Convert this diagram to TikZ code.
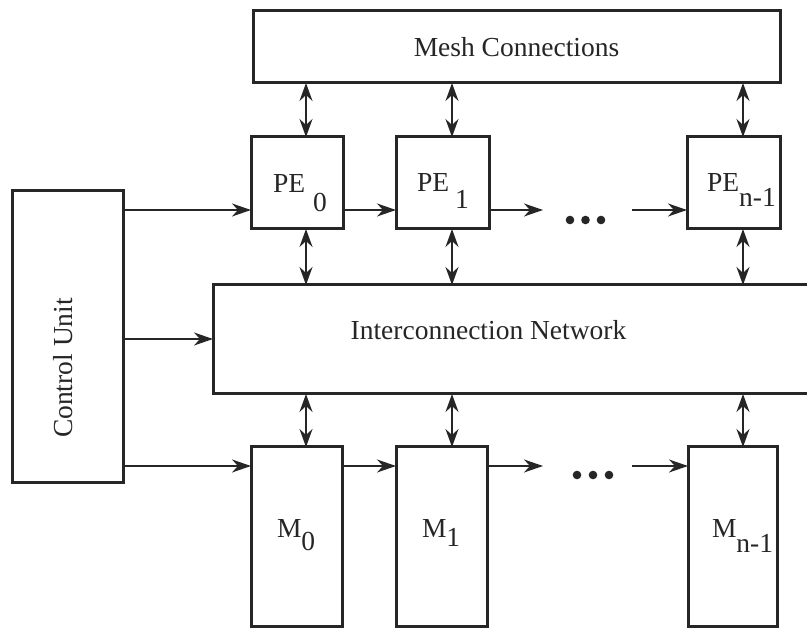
\documentclass[tikz,border=0pt]{standalone}
\usepackage{fontspec}
\setmainfont{Liberation Serif}
\usetikzlibrary{arrows.meta,calc}
\definecolor{ink}{RGB}{38,38,38}
\begin{document}
\begin{tikzpicture}[x=1pt,y=-1pt,
  box/.style={draw=ink,line width=3pt,rectangle,inner sep=0pt,outer sep=0pt,anchor=north west,text=ink,
    font=\fontsize{27.5pt}{33pt}\selectfont},
  lab/.style={inner sep=0pt,outer sep=0pt,text=ink,font=\fontsize{27.5pt}{33pt}\selectfont},
  sgl/.style={draw=ink,line width=1.6pt,-{Stealth[length=19pt,width=13pt,inset=6pt]}},
  dbl/.style={draw=ink,line width=2pt,{Stealth[length=18pt,width=13pt,inset=6pt]}-{Stealth[length=18pt,width=13pt,inset=6pt]}},
  dotm/.style={fill=ink}]
\useasboundingbox (0,0) rectangle (807,628);
\clip (0,0) rectangle (807,628);
\fill[white] (0,0) rectangle (807,628);

% boxes
\node[box,minimum width=527pt,minimum height=72pt] (mesh) at (253,11) {Mesh Connections\hspace{12pt}};
\node[box,minimum width=92pt,minimum height=92pt] (PE0) at (251,137) {};
\node[box,minimum width=93pt,minimum height=92pt] (PE1) at (396,137) {};
\node[box,minimum width=93pt,minimum height=92pt] (PEn) at (687,137) {};
\node[box,minimum width=111pt,minimum height=292pt] (CU) at (12,191) {};
\node[box,minimum width=620pt,minimum height=109pt] (IN) at (213,285) {};
\node[box,minimum width=91pt,minimum height=179pt] (M0) at (251,447) {};
\node[box,minimum width=91pt,minimum height=179pt] (M1) at (396,447) {};
\node[box,minimum width=89pt,minimum height=179pt] (Mn) at (688,447) {};

% labels
\node[lab,anchor=base,rotate=90] (CUt) at (72,368) {Control Unit};
\node[lab,anchor=base] (INt) at (488.5,340) {Interconnection Network};
\node[lab,anchor=base west] (PE0t) at (273,193) {PE\hspace{8pt}\raisebox{-19pt}{0}};
\node[lab,anchor=base west] (PE1t) at (417,192) {PE\hspace{6pt}\raisebox{-17pt}{1}};
\node[lab,anchor=base west] (PEnt) at (707,192) {PE\raisebox{-15pt}{n-1}};
\node[lab,anchor=base west] (M0t) at (277,538) {M\raisebox{-13pt}{0}};
\node[lab,anchor=base west] (M1t) at (422,538) {M\raisebox{-9pt}{1}};
\node[lab,anchor=base west] (Mnt) at (712,538) {M\raisebox{-15pt}{n-1}};

% columns and rows
\coordinate (c0) at (306,0);
\coordinate (c1) at (452,0);
\coordinate (c2) at (743,0);
\coordinate (r1) at (0,210);
\coordinate (r2) at (0,339);
\coordinate (r3) at (0,466);
\coordinate (e1) at (543,210);
\coordinate (s1) at (632,210);
\coordinate (e3) at (543,466);
\coordinate (s3) at (632,466);

% vertical double arrows
\draw[dbl] (mesh.south -| c0) -- (PE0.north -| c0);
\draw[dbl] (mesh.south -| c1) -- (PE1.north -| c1);
\draw[dbl] (mesh.south -| c2) -- (PEn.north -| c2);
\draw[dbl] (PE0.south -| c0) -- (IN.north -| c0);
\draw[dbl] (PE1.south -| c1) -- (IN.north -| c1);
\draw[dbl] (PEn.south -| c2) -- (IN.north -| c2);
\draw[dbl] (IN.south -| c0) -- (M0.north -| c0);
\draw[dbl] (IN.south -| c1) -- (M1.north -| c1);
\draw[dbl] (IN.south -| c2) -- (Mn.north -| c2);

% horizontal arrows
\draw[sgl] (CU.east |- r1) -- (PE0.west |- r1);
\draw[sgl] (PE0.east |- r1) -- (PE1.west |- r1);
\draw[sgl] (PE1.east |- r1) -- (e1);
\draw[sgl] (s1) -- (PEn.west |- r1);
\draw[sgl] (CU.east |- r2) -- (IN.west |- r2);
\draw[sgl] (CU.east |- r3) -- (M0.west |- r3);
\draw[sgl] (M0.east |- r3) -- (M1.west |- r3);
\draw[sgl] (M1.east |- r3) -- (e3);
\draw[sgl] (s3) -- (Mn.west |- r3);

% dots
\fill[dotm] (570,220) circle[radius=4.3pt] (585.5,220) circle[radius=4.3pt] (601,220) circle[radius=4.3pt];
\fill[dotm] (577,475) circle[radius=4.3pt] (593,475) circle[radius=4.3pt] (609,475) circle[radius=4.3pt];
\end{tikzpicture}
\end{document}
